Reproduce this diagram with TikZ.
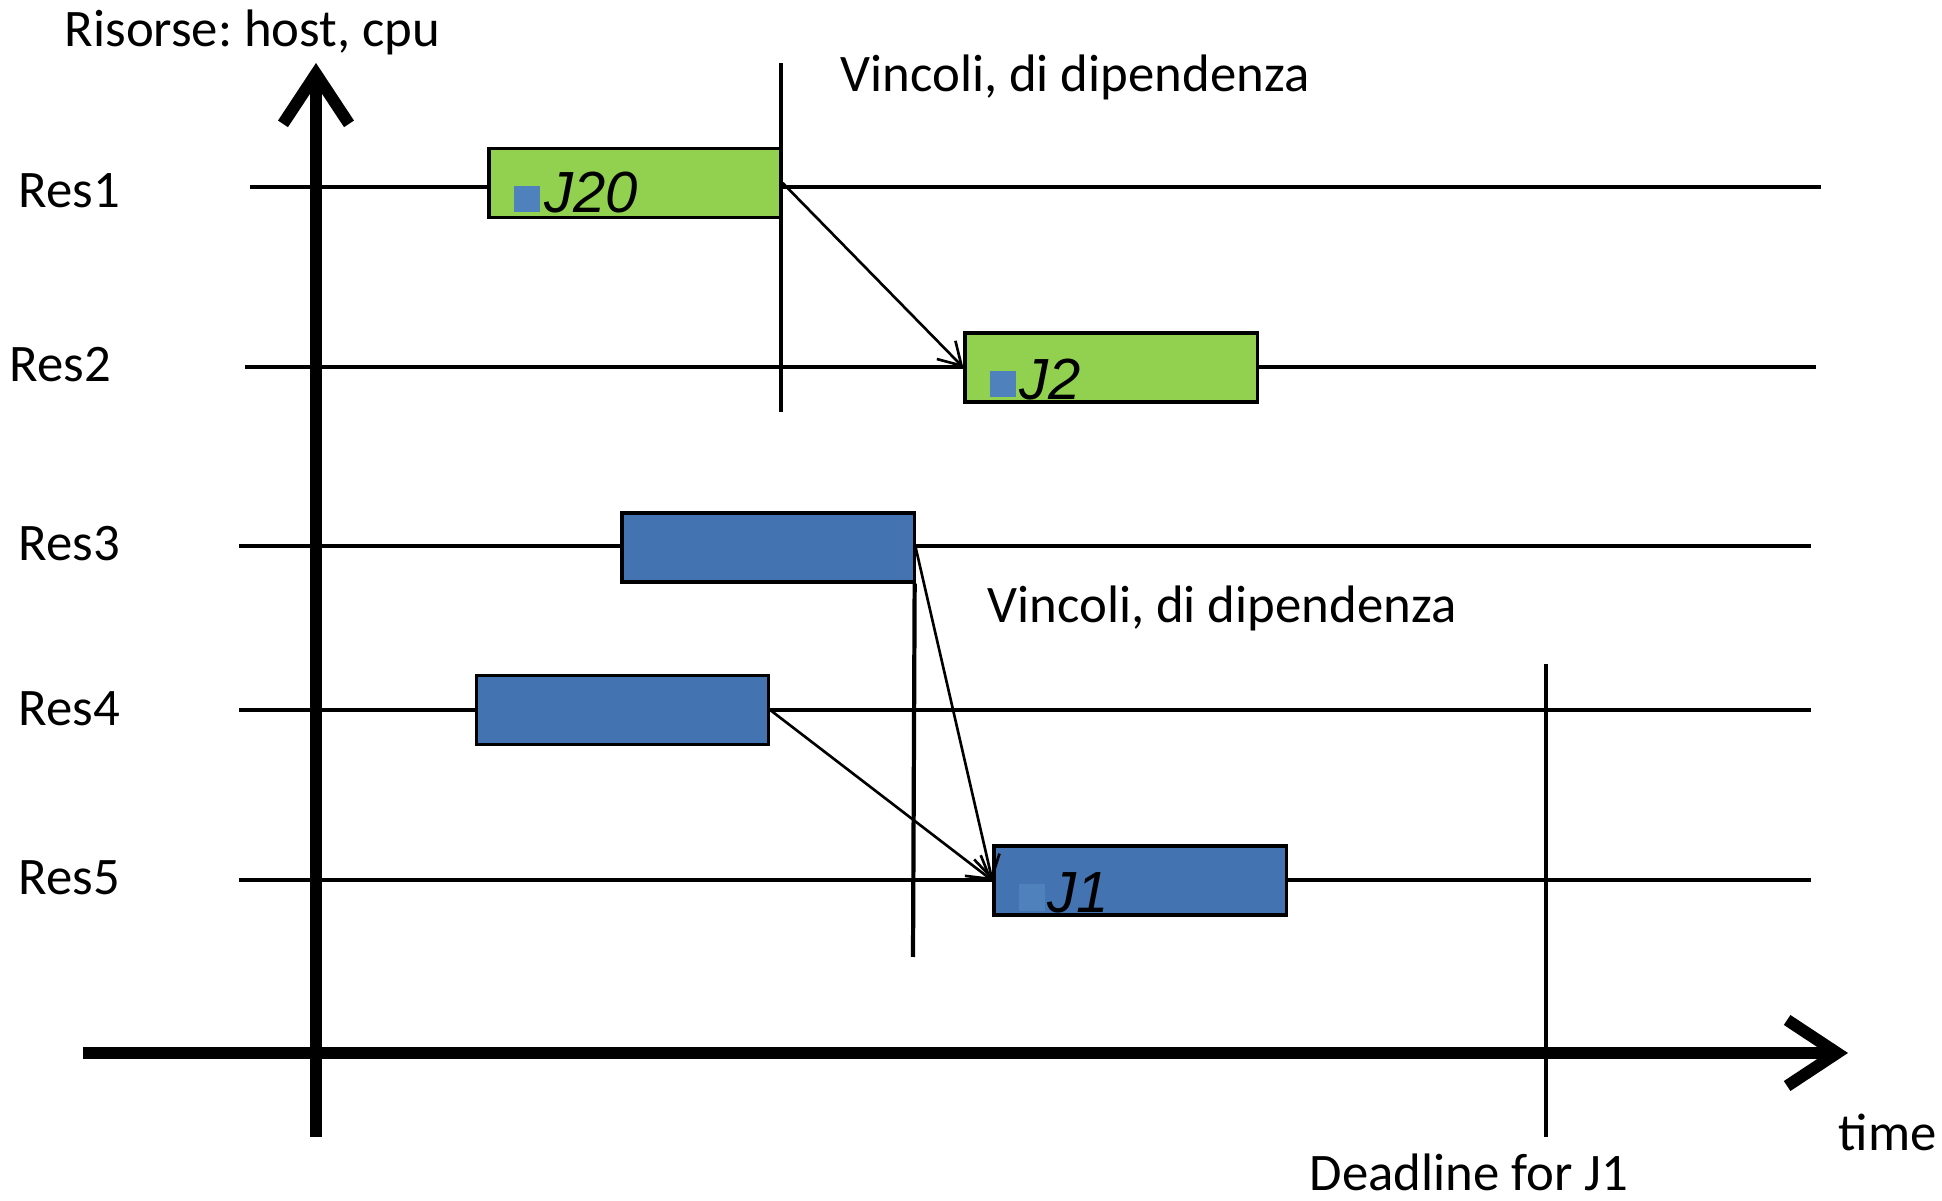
\documentclass[tikz,border=0pt]{standalone}
\usepackage{fontspec}
\setmainfont{Carlito}
\newfontfamily\jobfont{Liberation Sans}
\usetikzlibrary{arrows.meta}
\frenchspacing
\definecolor{jobgreen}{HTML}{92D050}
\definecolor{jobblue}{HTML}{4373B0}
\definecolor{tagblue}{HTML}{4F81BD}
\tikzset{
  lbl/.style={anchor=base west,inner sep=0pt,
              font=\fontsize{15}{18}\selectfont},
  joblbl/.style={anchor=base west,inner sep=0pt,
                 font=\jobfont\itshape\fontsize{16.5}{19}\selectfont},
  lane/.style={line width=1.2pt},
  cutline/.style={line width=1.2pt},
  axis/.style={line width=3.4pt,
               -{Straight Barb[length=5mm,width=6.6mm]}},
  greenbox/.style={draw=black,fill=jobgreen,line width=0.9pt,
                   minimum width=2.92cm,minimum height=0.69cm,inner sep=0pt},
  bluebox/.style={draw=black,fill=jobblue,line width=0.9pt,
                  minimum width=2.92cm,minimum height=0.69cm,inner sep=0pt},
  tag/.style={fill=tagblue,minimum size=0.26cm,inner sep=0pt},
  deparr/.style={-{Straight Barb[length=2.2mm,width=2.6mm]},line width=0.75pt}
}

\begin{document}
\begin{tikzpicture}[x=0.01cm,y=-0.01cm]
    \path[use as bounding box] (0,0) rectangle (1942,1201);

    % resource lanes
    \draw[lane] (250,187) -- (1821,187);
    \draw[lane] (245,367) -- (1816,367);
    \draw[lane] (239,546) -- (1811,546);
    \draw[lane] (239,710) -- (1811,710);
    \draw[lane] (239,880) -- (1811,880);
    \node[lbl] (res1) at (18,208) {Res1};
    \node[lbl] (res2) at (9,382) {Res2};
    \node[lbl] (res3) at (18,561) {Res3};
    \node[lbl] (res4) at (18,726) {Res4};
    \node[lbl] (res5) at (18,895) {Res5};

    % axes
    \coordinate (origin) at (316,1137);
    \coordinate (ytop) at (316,63);
    \coordinate (xstart) at (83,1053);
    \coordinate (xend) at (1848,1053);
    \draw[axis] (origin) -- (ytop);
    \draw[axis] (xstart) -- (xend);
    \node[lbl] (ylabel) at (64,47) {Risorse: host, cpu};
    \node[lbl] (xlabel) at (1838,1150) {time};

    % jobs
    \node[greenbox] (job20) at (635,183) {};
    \node[greenbox] (job2) at (1111,367.5) {};
    \node[bluebox] (task3) at (768,547.5) {};
    \node[bluebox] (task4) at (622.5,710) {};
    \node[bluebox] (job1) at (1140,880.5) {};
    \node[tag] (tag20) at (527,199.5) {};
    \node[tag] (tag2) at (1002.5,384.5) {};
    \node[tag] (tag1) at (1031.5,897.5) {};
    \node[joblbl] at (544,213) {J20};
    \node[joblbl] at (1019,400) {J2};
    \node[joblbl] at (1047,913) {J1};

    % dependency cuts
    \coordinate (cut1top) at (781,63);
    \coordinate (cut1bot) at (781,412);
    \coordinate (cut3bot) at (913,957);
    \coordinate (deadtop) at (1546,664);
    \coordinate (deadbot) at (1546,1137);
    \draw[cutline] (cut1top) -- (cut1bot);
    \draw[cutline] (task3.south east) ++(-1,0) -- (cut3bot);
    \draw[cutline] (deadtop) -- (deadbot);
    \node[lbl] (dep1) at (840,92) {Vincoli, di dipendenza};
    \node[lbl] (dep2) at (987,623) {Vincoli, di dipendenza};
    \node[lbl] (deadline) at (1309,1190) {Deadline for J1};

    \draw[deparr] (job20.east) -- (job2.west);
    \draw[deparr] (task3.east) -- (job1.west);
    \draw[deparr] (task4.east) -- (job1.west);
\end{tikzpicture}
\end{document}
